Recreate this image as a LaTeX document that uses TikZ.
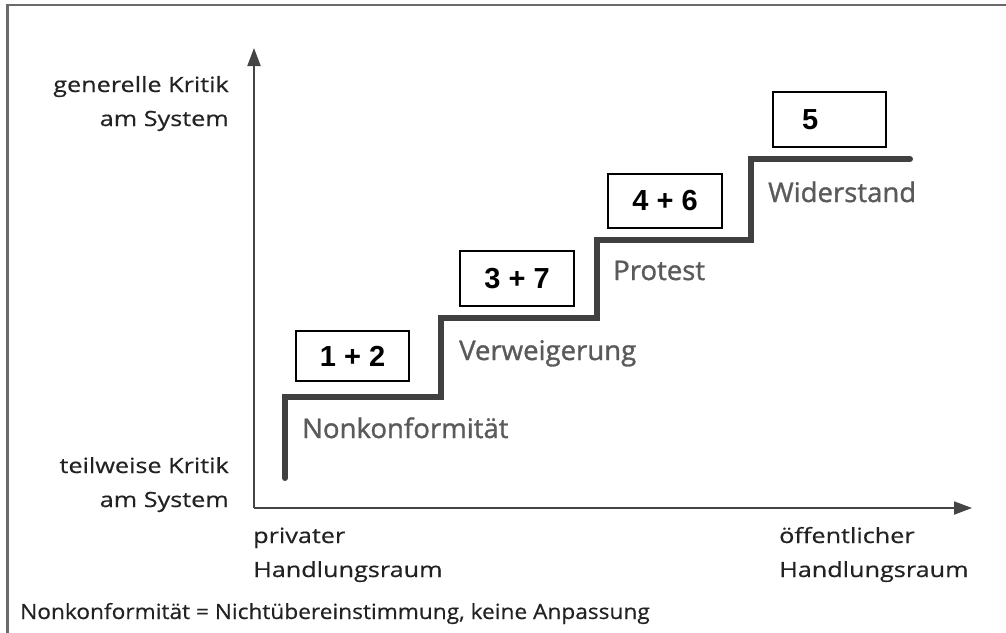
\documentclass[tikz,border=0pt]{standalone}
\usepackage{fontspec}
\usetikzlibrary{arrows.meta}
\newfontfamily\labfont[FakeStretch=1.2,FakeBold=0.5]{Open Sans}
\newfontfamily\footfont[FakeStretch=1.08,FakeBold=0.5]{Open Sans}
\newfontfamily\stagefont[FakeStretch=1.02,FakeBold=1.2]{Open Sans}
\newfontfamily\boxfont{Liberation Sans}
\definecolor{axisgray}{HTML}{444444}
\definecolor{stairgray}{HTML}{404040}
\definecolor{labgray}{HTML}{5A5A5A}
\definecolor{txtdark}{HTML}{222222}
\definecolor{framegray}{HTML}{6A6A6A}
\tikzset{
  frameline/.style={draw=framegray, line width=2.5pt},
  axisline/.style={draw=axisgray, line width=2pt, -{Triangle[length=18pt,width=13pt]}},
  stairline/.style={draw=stairgray, line width=6pt, line cap=round, line join=miter},
  numbox/.style={draw=black, line width=1.6pt, inner sep=0pt, font=\boxfont\bfseries\fontsize{29}{29}\selectfont, text=black},
  axislab/.style={inner sep=0pt, text=txtdark, font=\labfont\fontsize{21}{34}\selectfont},
  footlab/.style={inner sep=0pt, text=txtdark, font=\footfont\fontsize{21}{34}\selectfont},
  stagelab/.style={inner sep=0pt, text=labgray, font=\stagefont\fontsize{27}{30}\selectfont, anchor=base west},
}
\begin{document}
\begin{tikzpicture}[x=1pt,y=-1pt]
\clip (0,0) rectangle (1006,632);
% frame
\draw[frameline] (7.5,700) -- (7.5,5) -- (1100,5);
% axes
\coordinate (O) at (254,508);
\coordinate (ytip) at (254,48);
\coordinate (xtip) at (972,508);
\draw[axisline] (O) -- (ytip);
\draw[axisline] (O) -- (xtip);
% stairs
\coordinate (s0) at (285,478);
\coordinate (s1) at (285,397);
\coordinate (s2) at (441,397);
\coordinate (s3) at (441,318);
\coordinate (s4) at (597,318);
\coordinate (s5) at (597,240);
\coordinate (s6) at (751,240);
\coordinate (s7) at (751,159);
\coordinate (s8) at (910,159);
\draw[stairline] (s0) -- (s1) -- (s2) -- (s3) -- (s4) -- (s5) -- (s6) -- (s7) -- (s8);
% boxes
\node[numbox, minimum width=113pt, minimum height=50pt] (b12) at (352.5,356) {1 + 2};
\node[numbox, minimum width=114pt, minimum height=55pt] (b37) at (517,278.5) {3 + 7};
\node[numbox, minimum width=114pt, minimum height=54pt] (b46) at (665,201) {4 + 6};
\node[numbox, minimum width=113pt, minimum height=55pt] (b5) at (829.5,119.5) {\makebox[113pt][l]{\hspace{29pt}5}};
% stage labels
\node[stagelab] (l1) at (302,438) {Nonkonformität};
\node[stagelab] (l2) at (459,360) {Verweigerung};
\node[stagelab] (l3) at (613,280) {Protest};
\node[stagelab] (l4) at (768,202) {Widerstand};
% axis labels (base anchor = baseline of last line)
\node[axislab, anchor=base east, align=right] (ytop) at (229,126) {generelle Kritik\\am System};
\node[axislab, anchor=base east, align=right] (ybot) at (229,507) {teilweise Kritik\\am System};
\node[axislab, anchor=base west, align=left] (xleft) at (253,577) {privater\\Handlungsraum};
\node[axislab, anchor=base west, align=left] (xright) at (779,577) {öffentlicher\\Handlungsraum};
% footer
\node[footlab, anchor=base west] (foot) at (20,619) {Nonkonformität = Nichtübereinstimmung, keine Anpassung};
\end{tikzpicture}
\end{document}
